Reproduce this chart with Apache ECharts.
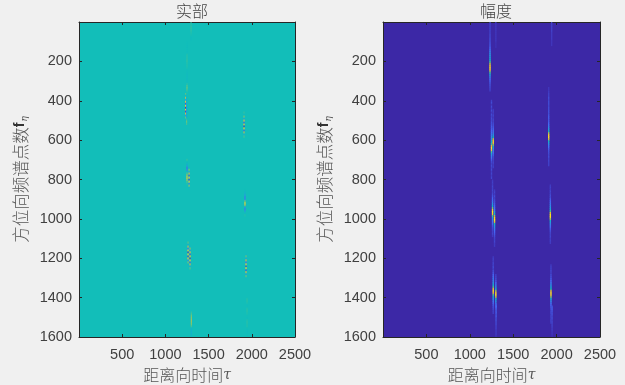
<!DOCTYPE html>
<html>
<head>
<meta charset="utf-8">
<title>实部 幅度</title>
<style>
html,body{margin:0;padding:0;background:#f0f0f0;}
#tu{width:625px;height:385px;}
</style>
<script src="https://cdn.jsdelivr.net/npm/echarts@6/dist/echarts.min.js"></script>
</head>
<body>
<div id="tu"></div>
<script>
var titles = ['实部', '幅度'];
var xName = '距离向时间';
var yName = '方位向频谱点数';
var xTicks = [500, 1000, 1500, 2000, 2500];
var yTicks = [200, 400, 600, 800, 1000, 1200, 1400, 1600];

// 每条亮线：所在列、起始行、每隔10行一个读数
var realCols = [1297, 1250, 1234, 1246, 1910, 1250, 1274, 1262, 1285, 1921, 1933, 1300, 1945];
var realStarts = [0, 100, 360, 380, 455, 695, 735, 1115, 1135, 845, 1175, 1470, 1400];
var realValues = [
	[.53,.53,.54,.54,.53,.52,.51,.49,.48],
	[.49,.49,.48,.49,.49,.48,.52,.53,.53,.54,.53,.52,.52,.51,.49,.48,.47,.46,.46,.47,.48,.53,.58,.6,.56,.52],
	[.58,.42,.72,.3,.85,.08,.92,.03,.95,.05,.8,.25,.6,.46],
	[.46,.42,.38,.36,.34,.34,.32,.32,.34,.36,.4,.54,.6,.56],
	[.54,.46,.62,.3,.8,.1,.9,.03,.92,.1,.72,.36,.56],
	[.54,.5,.4,.3,.12,.2,.42,.58,.7,.84,.72,.58,.52],
	[.44,.62,.3,.78,.1,.92,.06,.9,.2,.66,.42],
	[.58,.36,.74,.14,.92,.04,.95,.06,.88,.22,.62,.44],
	[.42,.66,.24,.84,.08,.94,.03,.92,.1,.76,.32,.58],
	[.5,.44,.38,.28,.14,.2,.62,.9,.7,.3,.14,.3,.46,.52],
	[.44,.6,.3,.76,.12,.9,.05,.94,.08,.8,.3,.6,.45],
	[.54,.58,.62,.66,.68,.66,.62,.56,.44,.4,.38,.4,.44,.48],
	[.52,.53,.52,.49,.48,.52,.53,.52,.51,.49,.48,.52,.53,.52,.52,.5,.48,.48,.49,.5]
];

var ampCols = [1233, 1300, 1250, 1270, 1262, 1285, 1270, 1300, 1909, 1943, 1928, 1935, 1305, 1948];
var ampStarts = [0, 0, 395, 440, 800, 850, 1190, 1280, 330, 0, 825, 1230, 1430, 1440];
var ampValues = [
	[.05,.05,.05,.05,.05,.05,.06,.06,.07,.07,.08,.09,.1,.12,.18,.22,.27,.3,.34,.45,.58,.74,.86,.9,.78,.56,.36,.25,.17,.12,.1,.08,.07,.06,.05],
	[.03,.03,.03,.03,.03,.03,.03,.03,.03,.03,.02,.02,.02],
	[.05,.07,.03,.07,.04,.07,.03,.07,.05,.07,.06,.08,.08,.1,.1,.12,.14,.17,.2,.24,.3,.4,.55,.76,.92,.82,.55,.34,.22,.16,.1,.07,.05,.07,.05,.07,.04,.06,.04,.06],
	[.04,.05,.04,.06,.04,.06,.05,.07,.08,.1,.12,.15,.2,.3,.5,.76,.92,.86,.6,.38,.26,.18,.13,.1,.07,.06,.05,.06,.04,.05],
	[.04,.05,.04,.06,.05,.06,.05,.07,.09,.12,.15,.2,.28,.4,.6,.84,.96,.86,.56,.34,.22,.16,.12,.09,.07,.06,.05,.06,.04],
	[.04,.06,.04,.07,.05,.07,.08,.1,.12,.16,.2,.3,.44,.66,.88,.95,.78,.5,.32,.22,.16,.12,.1,.08,.06,.05,.06,.04,.04],
	[.04,.05,.04,.06,.05,.07,.05,.07,.09,.12,.15,.18,.22,.28,.38,.55,.78,.92,.8,.56,.36,.26,.18,.14,.1,.08,.07,.05,.05],
	[.05,.06,.07,.09,.12,.16,.24,.4,.64,.88,.94,.72,.46,.3,.22,.16,.12,.09,.07,.06,.05,.06,.05,.06,.05,.05,.04,.04,.03,.03,.03,.03],
	[.03,.03,.04,.05,.05,.07,.06,.07,.07,.06,.07,.07,.08,.07,.09,.1,.09,.1,.12,.16,.22,.32,.46,.68,.88,.92,.72,.46,.3,.2,.14,.1,.08,.07,.06,.07,.05,.06,.05,.05],
	[.05,.05,.05,.05,.05,.04,.04,.04,.04,.03,.03,.03],
	[.04,.05,.04,.06,.05,.07,.07,.1,.12,.16,.2,.26,.36,.54,.78,.94,.92,.66,.42,.28,.2,.14,.1,.08,.06,.05,.06,.04,.05,.04],
	[.04,.05,.05,.06,.05,.07,.08,.1,.14,.18,.24,.34,.5,.74,.92,.88,.62,.38,.26,.18,.13,.1,.08,.06,.07,.05,.06,.05,.06,.05],
	[.1,.12,.1,.08,.09,.07,.08,.06,.06,.05,.05,.04,.04,.03,.03,.03,.02],
	[.09,.1,.09,.07,.08,.06,.07,.05,.06,.05,.05,.04,.04,.03,.03,.02]
];

var parula = ['#3E26A8','#4669F6','#2D91E4','#16AED0','#12BEB9','#8DC864','#DDBB3D','#FBCD2E','#F9FB15'];

function toCells(cols, starts, values){
	var out = [];
	for(var i=0;i<cols.length;i++){
		for(var j=0;j<values[i].length;j++){
			out.push([cols[i], starts[i]+j*10, values[i][j]]);
		}
	}
	return out;
}

function drawCell(params, api){
	var p = api.coord([api.value(0), api.value(1)]);
	var s = api.size([params.seriesIndex==0 ? 12 : 16, 10]);
	return {
		type: 'rect',
		shape: {x: p[0]-s[0]/2, y: p[1], width: s[0], height: s[1]+0.5},
		style: {fill: api.visual('color')}
	};
}

var textColor = '#404040';
var lineStyle = {color: '#262626', width: 1};
var grids = [
	{left: 79, top: 22, width: 216, height: 315, show: true, backgroundColor: '#12BEB9', borderWidth: 0, outerBoundsMode: 'none'},
	{left: 383, top: 22, width: 217, height: 315, show: true, backgroundColor: '#3C28A6', borderWidth: 0, outerBoundsMode: 'none'}
];

function xAxisOf(i, pos, main){
	return {
		type: 'value', gridIndex: i, position: pos, min: 0, max: 2500, interval: 500,
		splitLine: {show: false},
		axisLine: {show: true, onZero: false, lineStyle: lineStyle},
		axisTick: {show: true, inside: true, length: 3, lineStyle: lineStyle},
		axisLabel: {
			show: main, margin: 10, color: textColor, fontSize: 14.5, hideOverlap: false,
			fontFamily: '"Liberation Sans",Arial,sans-serif', showMinLabel: false,
			formatter: function(v){ return xTicks.indexOf(v)>=0 ? String(v) : ''; }
		},
		name: main ? '{c|'+xName+'}{g|τ}' : '',
		nameLocation: 'middle', nameGap: 30,
		nameTextStyle: {rich: {
			c: {fontFamily: '"Noto Sans CJK SC"', fontSize: 16, color: '#555555', fontWeight: 300},
			g: {fontFamily: '"DejaVu Serif"', fontSize: 14, color: '#555555', fontStyle: 'italic'}
		}}
	};
}
function yAxisOf(i, pos, main){
	return {
		type: 'value', gridIndex: i, position: pos, inverse: true, min: 0, max: 1600, interval: 200,
		splitLine: {show: false},
		axisLine: {show: true, onZero: false, lineStyle: lineStyle},
		axisTick: {show: true, inside: true, length: 3, lineStyle: lineStyle},
		axisLabel: {
			show: main, margin: 7, color: textColor, fontSize: 14.5, hideOverlap: false, padding: [2, 0, 0, 0],
			fontFamily: '"Liberation Sans",Arial,sans-serif', showMinLabel: false,
			formatter: function(v){ return yTicks.indexOf(v)>=0 ? String(v) : ''; }
		},
		name: main ? '{c|'+yName+'}{f|f}{s|η}' : '',
		nameLocation: 'middle', nameGap: 50,
		nameTextStyle: {rich: {
			c: {fontFamily: '"Noto Sans CJK SC"', fontSize: 16.5, color: '#555555', fontWeight: 300},
			f: {fontFamily: '"Liberation Sans"', fontSize: 14, color: '#333333', fontWeight: 'bold'},
			s: {fontFamily: '"DejaVu Serif"', fontSize: 9, color: '#555555', fontStyle: 'italic', verticalAlign: 'bottom', padding: [8, 0, 0, 1]}
		}}
	};
}

var myChart = echarts.init(document.getElementById('tu'), null, {renderer: 'canvas'});
myChart.setOption({
	animation: false,
	backgroundColor: '#f0f0f0',
	title: [
		{text: titles[0], left: 187, top: -2, textAlign: 'center', textStyle: {fontFamily: '"Noto Sans CJK SC"', fontSize: 16, fontWeight: 300, color: '#444444'}},
		{text: titles[1], left: 491, top: -2, textAlign: 'center', textStyle: {fontFamily: '"Noto Sans CJK SC"', fontSize: 16, fontWeight: 300, color: '#444444'}}
	],
	grid: grids,
	xAxis: [xAxisOf(0,'bottom',true), xAxisOf(0,'top',false), xAxisOf(1,'bottom',true), xAxisOf(1,'top',false)],
	yAxis: [yAxisOf(0,'left',true), yAxisOf(0,'right',false), yAxisOf(1,'left',true), yAxisOf(1,'right',false)],
	visualMap: [{
		show: false, min: 0, max: 1, dimension: 2, seriesIndex: [0, 1],
		inRange: {color: parula}
	}],
	series: [
		{type: 'custom', xAxisIndex: 0, yAxisIndex: 0, renderItem: drawCell, encode: {x: 0, y: 1}, data: toCells(realCols, realStarts, realValues), clip: true, silent: true},
		{type: 'custom', xAxisIndex: 2, yAxisIndex: 2, renderItem: drawCell, encode: {x: 0, y: 1}, data: toCells(ampCols, ampStarts, ampValues), clip: true, silent: true}
	]
});
window.onresize=function(){ myChart.resize(); };
</script>
</body>
</html>
